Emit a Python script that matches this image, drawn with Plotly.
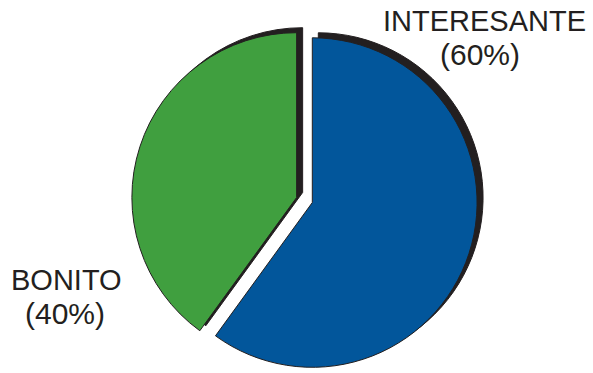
import plotly.graph_objects as go

# Survey answers and their shares
labels = ["INTERESANTE", "BONITO"]
values = [60, 40]
colors = ["#02569B", "#409F3F"]
pulls = [0.05, 0.05]

W, H = 593, 373
ink = "#231F20"

# Pie box (paper units) and the drop-shadow offset in pixels
dom_x = [0.2213, 0.8056]
dom_y = [0.0, 0.9276]
shadow_dx, shadow_dy = 6, 5

fig = go.Figure()

# dark copy of the pie, nudged up and to the right, acts as the shadow
fig.add_trace(go.Pie(
    labels=labels, values=values, sort=False, direction="clockwise", rotation=0,
    pull=pulls, textinfo="none", hoverinfo="skip",
    marker=dict(colors=[ink] * len(values), line=dict(color=ink, width=1)),
    domain=dict(x=[dom_x[0] + shadow_dx / W, dom_x[1] + shadow_dx / W],
                y=[dom_y[0] + shadow_dy / H, dom_y[1] + shadow_dy / H]),
    showlegend=False,
))

fig.add_trace(go.Pie(
    labels=labels, values=values, sort=False, direction="clockwise", rotation=0,
    pull=pulls, textinfo="none",
    marker=dict(colors=colors, line=dict(color=ink, width=1)),
    domain=dict(x=dom_x, y=dom_y),
    showlegend=False,
))

total = sum(values)
name_font = dict(family="Liberation Sans, Arial, sans-serif", size=29, color=ink)
pct_font = dict(family="Liberation Sans, Arial, sans-serif", size=30, color=ink)
# label positions: (x of name, x of percent, y of the line between them) in paper units
label_pos = {
    "INTERESANTE": (0.8162, 0.8094, 0.9008),
    "BONITO": (0.1121, 0.1096, 0.2064),
}
gap = 0.5 / H
annotations = []
for lab, val in zip(labels, values):
    x1, x2, ysplit = label_pos[lab]
    pct = round(100 * val / total)
    annotations.append(dict(text=lab, x=x1, y=ysplit + gap, xref="paper", yref="paper",
                            xanchor="center", yanchor="bottom", showarrow=False,
                            borderpad=0, borderwidth=0, font=name_font))
    annotations.append(dict(text=f"({pct}%)", x=x2, y=ysplit - gap, xref="paper", yref="paper",
                            xanchor="center", yanchor="top", showarrow=False,
                            borderpad=0, borderwidth=0, font=pct_font))

fig.update_layout(
    width=W, height=H,
    margin=dict(l=0, r=0, t=0, b=0),
    paper_bgcolor="white", plot_bgcolor="white",
    annotations=annotations,
)

fig.write_html("out.html")
